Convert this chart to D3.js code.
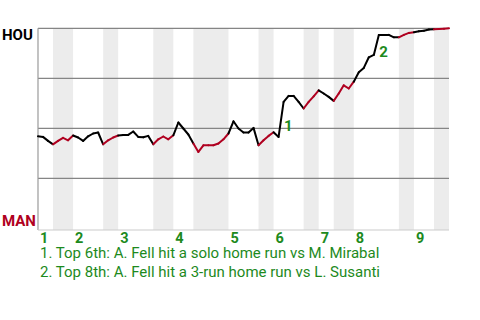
<!DOCTYPE html>
<html>
<head>
<meta charset="utf-8">
<script src="https://cdn.jsdelivr.net/npm/d3@7"></script>
<style>
  html, body { margin: 0; padding: 0; background: #fff; }
  svg { display: block; font-family: Roboto, "Noto Sans", sans-serif; }
</style>
</head>
<body>
<svg id="chart" width="480" height="320"></svg>
<script>
// ---- data ----
const innings = ["1", "2", "3", "4", "5", "6", "7", "8", "9"];
// events per half inning (top 1, bottom 1, top 2, ...)
const halfInningEvents = [3, 4, 6, 3, 7, 4, 4, 7, 6, 3, 6, 3, 3, 4, 9, 3, 4, 3];
// HOU win probability after each event (index 0 = game start)
const winProb = [
  0.46, 0.457, 0.437, 0.42, 0.437, 0.452, 0.44, 0.464, 0.454, 0.437,
  0.46, 0.474, 0.479, 0.42, 0.44, 0.454, 0.464, 0.467, 0.467, 0.484,
  0.457, 0.455, 0.462, 0.42, 0.445, 0.459, 0.445, 0.465, 0.529, 0.499,
  0.469, 0.424, 0.382, 0.415, 0.415, 0.415, 0.424, 0.445, 0.474, 0.535,
  0.499, 0.479, 0.479, 0.502, 0.415, 0.44, 0.462, 0.48, 0.457, 0.632,
  0.662, 0.662, 0.632, 0.599, 0.632, 0.66, 0.69, 0.674, 0.657, 0.637,
  0.674, 0.715, 0.699, 0.733, 0.78, 0.802, 0.855, 0.867, 0.967, 0.967,
  0.967, 0.955, 0.955, 0.967, 0.977, 0.98, 0.985, 0.988, 0.994, 0.995,
  0.997, 0.998, 1.0
];
const gridValues = [1, 0.75, 0.5, 0.25];
const teamLabels = ["HOU", "MAN"];
const annotationLabels = ["1", "2"];
const annotationEvent = [49, 68]; // index of the home-run events
const notes = [
  "1. Top 6th: A. Fell hit a solo home run vs M. Mirabal",
  "2. Top 8th: A. Fell hit a 3-run home run vs L. Susanti"
];

// ---- styling ----
const RED = "#b00020";
const GREEN = "#1d8a1d";
const BAND = "#ececec";

const svg = d3.select("#chart");
const plotLeft = 38, plotRight = 449, plotTop = 28.3, plotBottom = 228.3, axisY = 230;

const nEvents = d3.sum(halfInningEvents);
const x = d3.scaleLinear().domain([0, nEvents]).range([plotLeft, plotRight]);
const y = d3.scaleLinear().domain([0, 1]).range([plotBottom, plotTop]);

// half-inning boundaries
const starts = [];
let acc = 0;
halfInningEvents.forEach(n => { starts.push(acc); acc += n; });
const halves = halfInningEvents.map((n, k) => ({ k, start: starts[k], end: starts[k] + n, bottomHalf: k % 2 === 1 }));

// shaded bands for bottom halves
svg.append("g").selectAll("rect")
  .data(halves.filter(h => h.bottomHalf))
  .join("rect")
  .attr("x", d => x(d.start))
  .attr("y", plotTop)
  .attr("width", d => x(d.end) - x(d.start))
  .attr("height", axisY - plotTop)
  .attr("fill", BAND);

// gridlines
svg.append("g").selectAll("line")
  .data(gridValues)
  .join("line")
  .attr("x1", plotLeft).attr("x2", plotRight)
  .attr("y1", d => y(d)).attr("y2", d => y(d))
  .attr("stroke", "#858585").attr("stroke-width", 1.2);

// axes lines
svg.append("line")
  .attr("x1", plotLeft).attr("x2", plotLeft).attr("y1", plotTop).attr("y2", axisY)
  .attr("stroke", "#9a9a9a").attr("stroke-width", 1.2);
svg.append("line")
  .attr("x1", plotLeft).attr("x2", plotRight).attr("y1", axisY).attr("y2", axisY)
  .attr("stroke", "#cccccc").attr("stroke-width", 1.2);

// win probability line, segment colour by half inning
const segs = [];
for (let i = 1; i < winProb.length; i++) {
  const h = halves.find(hh => i > hh.start && i <= hh.end);
  segs.push({ a: i - 1, b: i, red: h.bottomHalf });
}
svg.append("g").selectAll("line")
  .data(segs)
  .join("line")
  .attr("x1", d => x(d.a)).attr("y1", d => y(winProb[d.a]))
  .attr("x2", d => x(d.b)).attr("y2", d => y(winProb[d.b]))
  .attr("stroke", d => d.red ? RED : "#000")
  .attr("stroke-width", 2)
  .attr("stroke-linecap", "round");

// team labels
svg.append("text").attr("x", 2).attr("y", 40)
  .attr("font-size", 15).attr("font-weight", "bold").attr("fill", "#000")
  .text(teamLabels[0]);
svg.append("text").attr("x", 2).attr("y", 226)
  .attr("font-size", 15).attr("font-weight", "bold").attr("fill", RED)
  .text(teamLabels[1]);

// inning labels
svg.append("g").selectAll("text")
  .data(innings)
  .join("text")
  .attr("x", (d, k) => x(halves[2 * k].start) + 2)
  .attr("y", 242.5)
  .attr("font-size", 14.5).attr("font-weight", "bold").attr("fill", GREEN)
  .text(d => d);

// annotation markers, at the middle of each home-run segment
svg.append("g").selectAll("text")
  .data(annotationLabels)
  .join("text")
  .attr("x", (d, k) => (x(annotationEvent[k] - 1) + x(annotationEvent[k])) / 2 + 3)
  .attr("y", (d, k) => (y(winProb[annotationEvent[k] - 1]) + y(winProb[annotationEvent[k]])) / 2 + 12)
  .attr("font-size", 15).attr("font-weight", "bold").attr("fill", GREEN)
  .text(d => d);

// notes
svg.append("g").selectAll("text")
  .data(notes)
  .join("text")
  .attr("x", 40)
  .attr("y", (d, k) => 257.5 + k * 19)
  .attr("font-size", 15).attr("fill", GREEN)
  .text(d => d);
</script>
</body>
</html>
